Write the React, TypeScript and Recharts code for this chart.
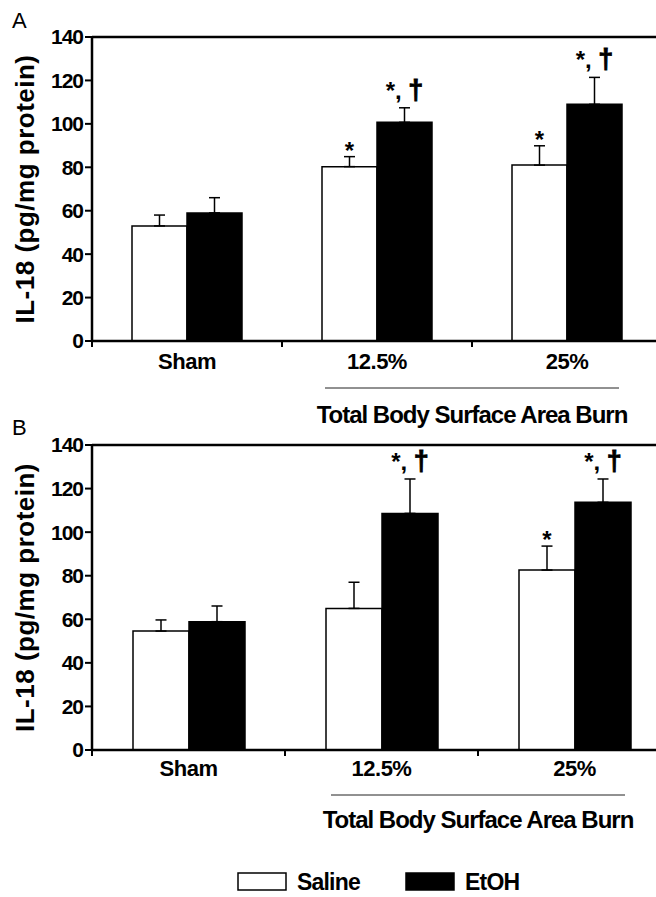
import { BarChart, Bar, XAxis, YAxis, ErrorBar, LabelList, ReferenceLine } from 'recharts';

const categories = ['Sham', '12.5%', '25%'];
const seriesNames = ['Saline', 'EtOH'];
const yTicks = [0, 20, 40, 60, 80, 100, 120, 140];

// panel A
const salineA = [53, 80.3, 81];
const salineErrA = [5, 4.6, 8.9];
const etohA = [59, 100.7, 109];
const etohErrA = [7, 6.7, 12.4];
const salineMarkA = ['', '*', '*'];
const etohMarkA = ['', '*, †', '*, †'];

// panel B
const salineB = [54.6, 65, 82.6];
const salineErrB = [5.1, 12, 11];
const etohB = [58.9, 108.6, 113.7];
const etohErrB = [7.2, 15.8, 10.7];
const salineMarkB = ['', '', '*'];
const etohMarkB = ['', '*, †', '*, †'];

const FONT = '"Liberation Sans", Arial, sans-serif';

const buildRows = (s: number[], se: number[], e: number[], ee: number[], sm: string[], em: string[]) =>
  categories.map((name, i) => ({
    name,
    saline: s[i],
    salineErr: [0, se[i]],
    etoh: e[i],
    etohErr: [0, ee[i]],
    salineMark: sm[i],
    etohMark: em[i],
  }));

// star / dagger marks sit above the error bar, placed from the bar's own scale
const markLabel = (vals: number[], errs: number[]) => (props: any) => {
  const vb = props.viewBox && props.viewBox.height != null ? props.viewBox : props;
  const x = Number(vb.x);
  const y = Number(vb.y);
  const width = Number(vb.width);
  const height = Number(vb.height);
  const { value, index } = props;
  if (!value) return null;
  const pxPerUnit = height / vals[index];
  const errTop = y - errs[index] * pxPerUnit;
  const text = String(value);
  const dagger = text.includes('†');
  const head = dagger ? text.replace('†', '') : text;
  return (
    <text
      x={x + width / 2}
      y={dagger ? errTop - 9 : errTop + 2}
      textAnchor="middle"
      fontSize={24}
      fontWeight="bold"
      fontFamily={FONT}
      fill="#000"
    >
      {head}
      {dagger && (
        <tspan fontSize={27} stroke="#000" strokeWidth={0.9}>
          †
        </tspan>
      )}
    </text>
  );
};

const makeTick = (labelDy: number) => (props: any) => {
  const { x, y, payload, index } = props;
  const half = payload.offset ?? 0;
  const last = index === categories.length - 1;
  return (
    <g>
      <line x1={x - half} x2={x - half} y1={y} y2={y + 6} stroke="#000" strokeWidth={2} />
      {last && <line x1={x + half} x2={x + half} y1={y} y2={y + 6} stroke="#000" strokeWidth={2} />}
      <text
        x={x}
        y={y + labelDy}
        textAnchor="middle"
        fontSize={22}
        fontWeight="bold"
        fontFamily={FONT}
        letterSpacing={-0.5}
        fill="#000"
      >
        {payload.value}
      </text>
    </g>
  );
};

const makeTitle = (lineDy: number, titleDy: number, inset: number) => (props: any) => {
  const { x, y, width } = props.viewBox;
  const band = width / categories.length;
  return (
    <g>
      <line x1={x + band + inset} x2={x + width - inset} y1={y + lineDy} y2={y + lineDy} stroke="#222" strokeWidth={1} />
      <text
        x={x + band * 2}
        y={y + titleDy}
        textAnchor="middle"
        fontSize={24}
        fontWeight="bold"
        fontFamily={FONT}
        letterSpacing={-1}
        fill="#000"
      >
        Total Body Surface Area Burn
      </text>
    </g>
  );
};

const yLabel = (props: any) => {
  const { x, y, height } = props.viewBox;
  const cx = x + 34;
  const cy = y + height / 2;
  return (
    <text
      x={cx}
      y={cy}
      transform={`rotate(-90 ${cx} ${cy})`}
      textAnchor="middle"
      fontSize={26}
      fontWeight="bold"
      fontFamily={FONT}
      letterSpacing={0.5}
      fill="#000"
    >
      IL-18 (pg/mg protein)
    </text>
  );
};

interface PanelProps {
  top: number;
  height: number;
  marginTop: number;
  marginRight: number;
  xAxisHeight: number;
  barSize: number;
  labelDy: number;
  lineDy: number;
  titleDy: number;
  inset: number;
  saline: number[];
  salineErr: number[];
  etoh: number[];
  etohErr: number[];
  salineMark: string[];
  etohMark: string[];
}

function Panel(p: PanelProps) {
  const data = buildRows(p.saline, p.salineErr, p.etoh, p.etohErr, p.salineMark, p.etohMark);
  return (
    <div style={{ position: 'absolute', left: 0, top: p.top }}>
      <BarChart
        width={700}
        height={p.height}
        data={data}
        margin={{ top: p.marginTop, right: p.marginRight, bottom: 0, left: 0 }}
        barGap={0}
        barSize={p.barSize}
      >
        <YAxis
          width={92}
          domain={[0, 140]}
          ticks={yTicks}
          interval={0}
          axisLine={{ stroke: '#000', strokeWidth: 2.5 }}
          tickLine={{ stroke: '#000', strokeWidth: 2 }}
          tickSize={7}
          tickMargin={2}
          tick={{ fill: '#000', fontSize: 21, fontWeight: 'bold', fontFamily: FONT, letterSpacing: -1 }}
          label={{ content: yLabel }}
        />
        <XAxis
          dataKey="name"
          height={p.xAxisHeight}
          axisLine={{ stroke: '#000', strokeWidth: 2.5 }}
          tickLine={false}
          tickSize={0}
          tickMargin={0}
          interval={0}
          tick={makeTick(p.labelDy)}
          label={{ content: makeTitle(p.lineDy, p.titleDy, p.inset) }}
        />
        <ReferenceLine y={140} stroke="#000" strokeWidth={2.5} />
        <Bar dataKey="saline" fill="#fff" stroke="#000" strokeWidth={1.5} isAnimationActive={false}>
          <ErrorBar dataKey="salineErr" width={5.5} stroke="#000" strokeWidth={1.5} direction="y" isAnimationActive={false} />
          <LabelList dataKey="salineMark" content={markLabel(p.saline, p.salineErr)} />
        </Bar>
        <Bar dataKey="etoh" fill="#000" stroke="#000" strokeWidth={1.5} isAnimationActive={false}>
          <ErrorBar dataKey="etohErr" width={5.5} stroke="#000" strokeWidth={1.5} direction="y" isAnimationActive={false} />
          <LabelList dataKey="etohMark" content={markLabel(p.etoh, p.etohErr)} />
        </Bar>
      </BarChart>
    </div>
  );
}

const legendFills = ['#fff', '#000'];
const legendBoxX = [238, 406];

function Legend() {
  return (
    <svg width={656} height={40} style={{ position: 'absolute', left: 0, top: 862 }}>
      {seriesNames.map((name, i) => (
        <g key={name}>
          <rect x={legendBoxX[i]} y={11} width={48} height={17} fill={legendFills[i]} stroke="#000" strokeWidth={1.5} />
          <text
            x={legendBoxX[i] + 59}
            y={27.5}
            fontSize={23}
            fontWeight="bold"
            fontFamily={FONT}
            letterSpacing={-0.8}
            fill="#000"
          >
            {name}
          </text>
        </g>
      ))}
    </svg>
  );
}

function PanelLetter({ text, top }: { text: string; top: number }) {
  return (
    <div
      style={{
        position: 'absolute',
        left: 12,
        top,
        fontFamily: FONT,
        fontSize: 22,
        lineHeight: '22px',
        color: '#000',
      }}
    >
      {text}
    </div>
  );
}

export default function App() {
  return (
    <div
      style={{
        position: 'fixed',
        left: 0,
        top: 0,
        width: 656,
        height: 897,
        overflow: 'hidden',
        background: '#fff',
      }}
    >
      <PanelLetter text="A" top={10} />
      <PanelLetter text="B" top={417} />
      <Panel
        top={0}
        height={440}
        marginTop={37}
        marginRight={38}
        xAxisHeight={99}
        barSize={55}
        labelDy={28}
        lineDy={47}
        titleDy={81.6}
        inset={43}
        saline={salineA}
        salineErr={salineErrA}
        etoh={etohA}
        etohErr={etohErrA}
        salineMark={salineMarkA}
        etohMark={etohMarkA}
      />
      <Panel
        top={410}
        height={500}
        marginTop={35}
        marginRight={29}
        xAxisHeight={160}
        barSize={56}
        labelDy={25.6}
        lineDy={45}
        titleDy={77.6}
        inset={46}
        saline={salineB}
        salineErr={salineErrB}
        etoh={etohB}
        etohErr={etohErrB}
        salineMark={salineMarkB}
        etohMark={etohMarkB}
      />
      <Legend />
    </div>
  );
}
